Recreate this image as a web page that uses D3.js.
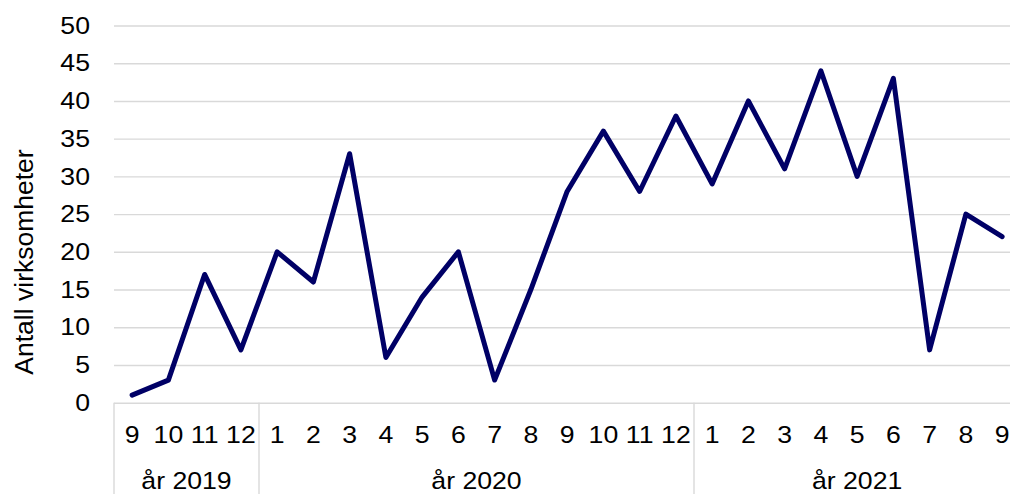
<!DOCTYPE html>
<html>
<head>
<meta charset="utf-8">
<script src="https://cdn.jsdelivr.net/npm/d3@7"></script>
<style>
  html, body { margin: 0; padding: 0; background: #fff; overflow: hidden; }
  svg { display: block; font-family: "Liberation Sans", Arial, sans-serif; }
</style>
</head>
<body>
<svg id="chart" width="1010" height="494"></svg>
<script>
// Monthly count of businesses, Sept 2019 – Sept 2021
const months = ["9","10","11","12","1","2","3","4","5","6","7","8","9","10","11","12","1","2","3","4","5","6","7","8","9"];
const years  = ["år 2019","år 2019","år 2019","år 2019",
                "år 2020","år 2020","år 2020","år 2020","år 2020","år 2020","år 2020","år 2020","år 2020","år 2020","år 2020","år 2020",
                "år 2021","år 2021","år 2021","år 2021","år 2021","år 2021","år 2021","år 2021","år 2021"];
const values = [1,3,17,7,20,16,33,6,14,20,3,15,28,36,28,38,29,40,31,44,30,43,7,25,22];
const yTicks = [0,5,10,15,20,25,30,35,40,45,50];
const yTitle = "Antall virksomheter";

const svg = d3.select("#chart");
const plotLeft = 114, plotTop = 25.5, plotBottom = 402.7, band = 36.25;
const plotRight = plotLeft + band * values.length;
const grid = "#d9d9d9";
const fs = 24;
const widen = 1.11; // labels are set slightly wide

const x = d3.scaleBand().domain(d3.range(values.length)).range([plotLeft, plotRight]).padding(0);
const y = d3.scaleLinear().domain([0, 50]).range([plotBottom, plotTop]);

// value axis with gridlines
const yAxis = svg.append("g")
  .attr("transform", `translate(${plotLeft},0)`)
  .call(d3.axisLeft(y).tickValues(yTicks).tickSizeInner(-(plotRight - plotLeft)).tickSizeOuter(0).tickPadding(24));
yAxis.select(".domain").remove();
yAxis.selectAll(".tick line").attr("stroke", grid).attr("stroke-width", 1.4);
yAxis.selectAll(".tick text")
  .attr("x", 0)
  .attr("transform", `translate(-24,0) scale(${widen},1)`)
  .attr("font-size", fs).attr("fill", "#000")
  .style("font-family", "'Liberation Sans', Arial, sans-serif");

// month labels
const xAxis = svg.append("g")
  .attr("transform", `translate(0,${plotBottom})`)
  .call(d3.axisBottom(x).tickFormat(i => months[i]).tickSize(0).tickPadding(23));
xAxis.select(".domain").remove();
xAxis.selectAll(".tick text")
  .attr("transform", `scale(${widen},1)`)
  .attr("font-size", fs).attr("fill", "#000")
  .style("font-family", "'Liberation Sans', Arial, sans-serif");

// year groups
const groups = [];
years.forEach((yr, i) => {
  const g = groups[groups.length - 1];
  if (g && g.label === yr) g.end = i; else groups.push({ label: yr, start: i, end: i });
});

const sepX = [plotLeft].concat(groups.map(g => x(g.end) + x.bandwidth()));
svg.append("g").selectAll("line").data(sepX).join("line")
  .attr("x1", d => d).attr("x2", d => d)
  .attr("y1", plotBottom).attr("y2", 494)
  .attr("stroke", grid).attr("stroke-width", 1.4);

svg.append("g").selectAll("text").data(groups).join("text")
  .attr("transform", g => `translate(${(x(g.start) + x(g.end) + x.bandwidth()) / 2},489) scale(${widen},1)`)
  .attr("text-anchor", "middle")
  .attr("font-size", fs)
  .attr("fill", "#000")
  .text(g => g.label);

// series line
const line = d3.line()
  .x((d, i) => x(i) + x.bandwidth() / 2)
  .y(d => y(d));

svg.append("path")
  .datum(values)
  .attr("d", line)
  .attr("fill", "none")
  .attr("stroke", "#000066")
  .attr("stroke-width", 5)
  .attr("stroke-linejoin", "round")
  .attr("stroke-linecap", "round");

// axis title
svg.append("text")
  .attr("transform", "translate(33,262) rotate(-90)")
  .attr("text-anchor", "middle")
  .attr("font-size", 26.5)
  .attr("fill", "#000")
  .text(yTitle);
</script>
</body>
</html>
